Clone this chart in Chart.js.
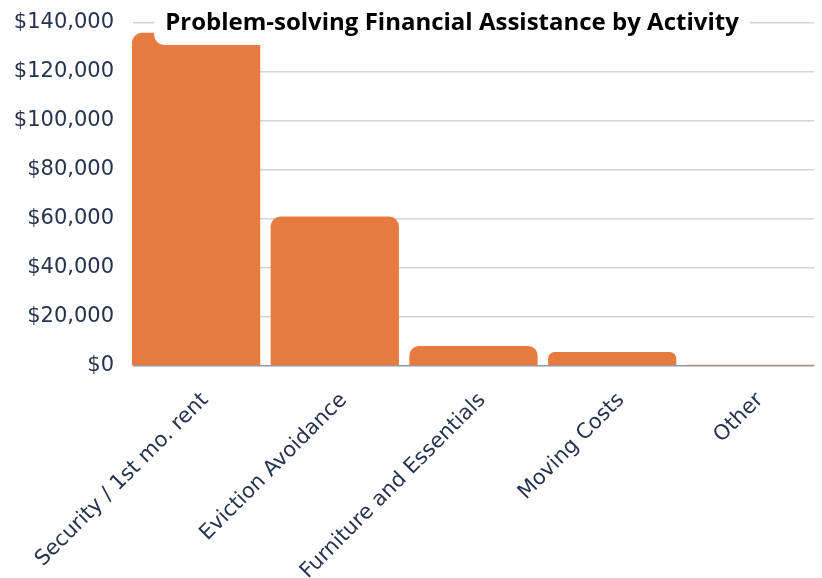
<!DOCTYPE html>
<html>
<head>
<meta charset="utf-8">
<script src="https://cdn.jsdelivr.net/npm/chart.js@4"></script>
<style>
  html, body { margin: 0; padding: 0; background: #fff; overflow: hidden; }
  #wrap { width: 822px; height: 578px; position: relative; }
</style>
</head>
<body>
<div id="wrap"><canvas id="chart"></canvas></div>
<script>
const titleText = 'Problem-solving Financial Assistance by Activity';
const activities = ['Security / 1st mo. rent', 'Eviction Avoidance', 'Furniture and Essentials', 'Moving Costs', 'Other'];
const amounts = [136000, 61000, 8200, 5700, 500];
const yTicks = [0, 20000, 40000, 60000, 80000, 100000, 120000, 140000];

const tickColor = '#27324f';
const barColor = '#e67b40';

// title sits over the top of the plot on a white rounded box
const boxedTitle = {
    id: 'boxedTitle',
    afterDatasetsDraw(chart, args, opts) {
        const ctx = chart.ctx;
        ctx.save();
        ctx.font = 'bold 24px "Open Sans"';
        const w = ctx.measureText(opts.text).width;
        const x = opts.x;
        const left = x - w / 2 - 11;
        ctx.fillStyle = '#fff';
        ctx.beginPath();
        ctx.roundRect(left, -12, w + 22, 57, 10);
        ctx.fill();
        ctx.fillStyle = '#000';
        ctx.textAlign = 'center';
        ctx.textBaseline = 'middle';
        ctx.fillText(opts.text, x, 23);
        ctx.restore();
    }
};

// let the category band run a little past the grid so the outer bars sit flush with it
const widenBand = {
    id: 'widenBand',
    afterLayout(chart, args, opts) {
        const x = chart.scales.x;
        x.left -= opts.extra;
        x.right += opts.extra;
        x.width = x.right - x.left;
        x.configure();
    }
};

const ctx = document.getElementById('chart').getContext('2d');
const chart = new Chart(ctx, {
    type: 'bar',
    data: {
        labels: activities,
        datasets: [{
            data: amounts,
            backgroundColor: barColor,
            borderRadius: { topLeft: 10, topRight: 10 },
            borderSkipped: 'start',
            barPercentage: 0.925,
            categoryPercentage: 1
        }]
    },
    options: {
        responsive: true,
        maintainAspectRatio: false,
        animation: false,
        layout: { padding: { top: 23, right: 8, left: 0, bottom: 0 } },
        plugins: {
            legend: { display: false },
            title: { display: false },
            tooltip: { enabled: false },
            boxedTitle: { text: titleText, x: 452 },
            widenBand: { extra: 6.25 }
        },
        scales: {
            x: {
                grid: { display: false },
                border: { display: false },
                ticks: {
                    color: tickColor,
                    padding: 14,
                    labelOffset: 9,
                    font: { family: 'DejaVu Sans', size: 21 },
                    maxRotation: 45,
                    minRotation: 45,
                    autoSkip: false
                },
                afterFit(scale) { scale.height = 212; }
            },
            y: {
                min: 0,
                max: 140000,
                afterBuildTicks(scale) { scale.ticks = yTicks.map(v => ({ value: v })); },
                grid: {
                    color: c => c.tick && c.tick.value === 0 ? '#8f98ab' : '#d3d5db',
                    lineWidth: 1.5,
                    drawTicks: false
                },
                border: { display: false },
                ticks: {
                    color: tickColor,
                    padding: 19,
                    font: { family: 'DejaVu Sans', size: 21 },
                    callback: v => '$' + v.toLocaleString('en-US')
                },
                afterFit(scale) {
                    scale.width = 133;
                    scale.paddingTop = 0;
                    scale.paddingBottom = 0;
                }
            }
        }
    },
    plugins: [boxedTitle, widenBand]
});
</script>
</body>
</html>
